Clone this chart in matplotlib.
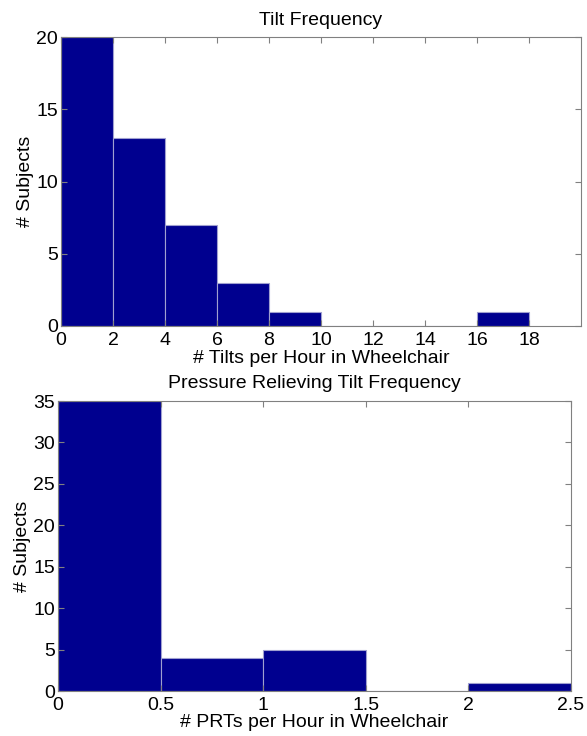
import matplotlib
matplotlib.use("Agg")
import matplotlib.pyplot as plt
import numpy as np

plt.rcParams['font.family'] = ['Liberation Sans', 'DejaVu Sans']

# tilt frequency histogram (bin edges, counts)
tilt_edges = [0, 2, 4, 6, 8, 10, 12, 14, 16, 18]
tilt_counts = [20, 13, 7, 3, 1, 0, 0, 0, 1]
tilt_xticks = [0, 2, 4, 6, 8, 10, 12, 14, 16, 18]
tilt_yticks = [0, 5, 10, 15, 20]

# pressure relieving tilt histogram
prt_edges = [0, 0.5, 1.0, 1.5, 2.0, 2.5]
prt_counts = [35, 4, 5, 0, 1]
prt_xticks = [0, 0.5, 1, 1.5, 2, 2.5]
prt_xlabels = ['0', '0.5', '1', '1.5', '2', '2.5']
prt_yticks = [0, 5, 10, 15, 20, 25, 30, 35]

BAR = '#00008f'
EDGE = '#a0a0d0'
FS = 14

fig = plt.figure(figsize=(5.87, 7.36), dpi=100)
ax1 = fig.add_axes([61/587, 1-326/736, 520/587, 289/736])
ax2 = fig.add_axes([58/587, 1-691/736, 513/587, 290/736])


def style(ax):
    for s in ax.spines.values():
        s.set_color('#808080')
        s.set_linewidth(0.8)
    ax.tick_params(direction='in', top=True, right=True, length=4,
                   color='#808080', labelsize=FS)
    ax.tick_params(axis='x', pad=4)
    ax.tick_params(axis='y', pad=2)


# top plot
w1 = np.diff(tilt_edges)
ax1.bar(tilt_edges[:-1], tilt_counts, width=w1, align='edge',
        color=BAR, edgecolor=EDGE, linewidth=0.8)
ax1.set_xlim(0, 20)
ax1.set_ylim(0, 20)
ax1.set_xticks(tilt_xticks)
ax1.set_yticks(tilt_yticks)
ax1.set_title('Tilt Frequency', fontsize=FS, pad=8.5)
ax1.set_xlabel('# Tilts per Hour in Wheelchair', fontsize=FS, labelpad=1)
ax1.set_ylabel('# Subjects', fontsize=FS, labelpad=2)
style(ax1)

# bottom plot
w2 = np.diff(prt_edges)
ax2.bar(prt_edges[:-1], prt_counts, width=w2, align='edge',
        color=BAR, edgecolor=EDGE, linewidth=0.8)
ax2.set_xlim(0, 2.5)
ax2.set_ylim(0, 35)
ax2.set_xticks(prt_xticks)
ax2.set_xticklabels(prt_xlabels)
ax2.set_yticks(prt_yticks)
ax2.set_title('Pressure Relieving Tilt Frequency', fontsize=FS, pad=9)
ax2.set_xlabel('# PRTs per Hour in Wheelchair', fontsize=FS, labelpad=0)
ax2.set_ylabel('# Subjects', fontsize=FS, labelpad=2)
style(ax2)

fig.savefig('out.png', dpi=100)
